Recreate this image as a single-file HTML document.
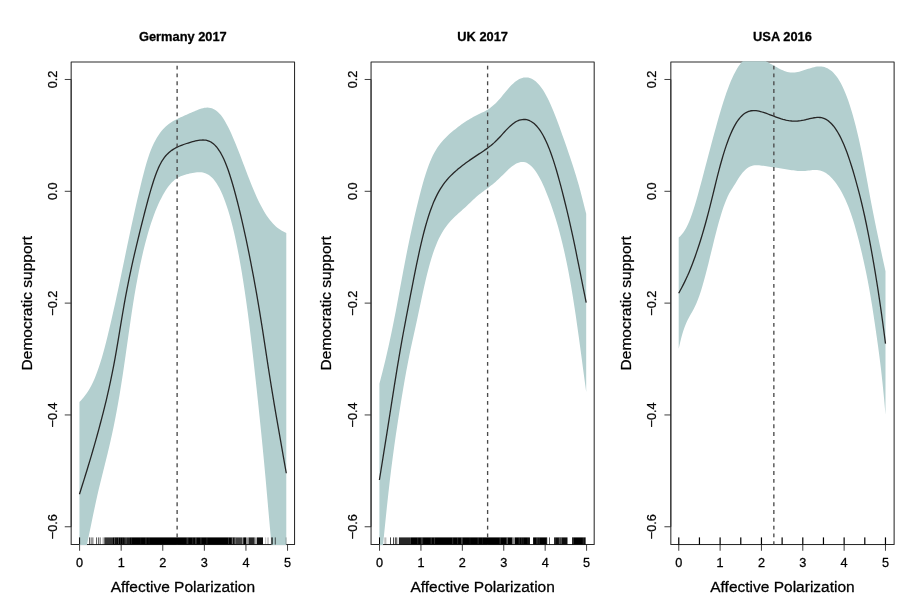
<!DOCTYPE html>
<html><head><meta charset="utf-8"><title>Affective Polarization and Democratic support</title>
<style>html,body{margin:0;padding:0;background:#fff}svg{display:block;filter:blur(0.45px)}</style></head>
<body>
<svg width="920" height="609" viewBox="0 0 920 609" font-family="'Liberation Sans', Arial, Helvetica, sans-serif" stroke-linejoin="round">
<rect width="920" height="609" fill="#fff"/>
<g id="panel1">
<rect x="71.16" y="61.9" width="223.39" height="482.65" fill="none" stroke="#2a2a2a" stroke-width="1.05"/>
<path d="M79.59,544.55v6.2 M121.18,544.55v6.2 M162.77,544.55v6.2 M204.36,544.55v6.2 M245.95,544.55v6.2 M287.54,544.55v6.2 M71.16,79.48h-6.4 M71.16,191.30h-6.4 M71.16,303.12h-6.4 M71.16,414.94h-6.4 M71.16,526.76h-6.4 M71.16,79.48V526.76 M79.59,544.55H287.54" stroke="#2a2a2a" stroke-width="0.9" fill="none"/>
<clipPath id="c0"><rect x="71.16" y="61.35" width="223.39" height="483.75"/></clipPath>
<g clip-path="url(#c0)">
<path d="M79.45,402.03 L80.94,400.38 L82.43,398.70 L83.91,396.92 L85.40,395.02 L86.89,392.95 L88.38,390.69 L89.87,388.19 L91.36,385.46 L92.84,382.44 L94.33,379.13 L95.82,375.51 L97.31,371.59 L98.80,367.35 L100.28,362.80 L101.77,357.92 L103.26,352.74 L104.75,347.28 L106.24,341.54 L107.72,335.55 L109.21,329.35 L110.70,322.97 L112.19,316.47 L113.68,309.87 L115.17,303.17 L116.65,296.37 L118.14,289.46 L119.63,282.44 L121.12,275.32 L122.61,268.12 L124.09,260.90 L125.58,253.69 L127.07,246.52 L128.56,239.40 L130.05,232.38 L131.53,225.45 L133.02,218.65 L134.51,211.96 L136.00,205.37 L137.49,198.87 L138.98,192.46 L140.46,186.18 L141.95,180.07 L143.44,174.20 L144.93,168.62 L146.42,163.37 L147.90,158.51 L149.39,154.10 L150.88,150.12 L152.37,146.54 L153.86,143.33 L155.34,140.43 L156.83,137.82 L158.32,135.44 L159.81,133.28 L161.30,131.32 L162.79,129.55 L164.27,127.95 L165.76,126.50 L167.25,125.20 L168.74,124.02 L170.23,122.95 L171.71,121.98 L173.20,121.08 L174.69,120.25 L176.18,119.48 L177.67,118.74 L179.15,118.02 L180.64,117.33 L182.13,116.65 L183.62,115.99 L185.11,115.33 L186.60,114.68 L188.08,114.02 L189.57,113.36 L191.06,112.70 L192.55,112.04 L194.04,111.39 L195.52,110.77 L197.01,110.16 L198.50,109.58 L199.99,109.04 L201.48,108.56 L202.96,108.16 L204.45,107.85 L205.94,107.65 L207.43,107.58 L208.92,107.65 L210.41,107.89 L211.89,108.30 L213.38,108.90 L214.87,109.69 L216.36,110.70 L217.85,111.94 L219.33,113.40 L220.82,115.11 L222.31,117.06 L223.80,119.27 L225.29,121.73 L226.77,124.41 L228.26,127.30 L229.75,130.37 L231.24,133.60 L232.73,136.97 L234.22,140.46 L235.70,144.05 L237.19,147.74 L238.68,151.51 L240.17,155.34 L241.66,159.22 L243.14,163.13 L244.63,167.07 L246.12,171.00 L247.61,174.90 L249.10,178.76 L250.58,182.56 L252.07,186.26 L253.56,189.86 L255.05,193.34 L256.54,196.69 L258.03,199.89 L259.51,202.95 L261.00,205.86 L262.49,208.61 L263.98,211.20 L265.47,213.65 L266.95,215.93 L268.44,218.06 L269.93,220.03 L271.42,221.85 L272.91,223.52 L274.39,225.04 L275.88,226.42 L277.37,227.66 L278.86,228.79 L280.35,229.79 L281.84,230.69 L283.32,231.51 L284.81,232.28 L286.30,233.02 L286.30,690.03 L284.81,676.35 L283.32,662.61 L281.84,648.76 L280.35,634.75 L278.86,620.53 L277.37,606.05 L275.88,591.24 L274.39,576.06 L272.91,560.45 L271.42,544.36 L269.93,527.78 L268.44,510.89 L266.95,493.99 L265.47,477.36 L263.98,461.24 L262.49,445.68 L261.00,430.67 L259.51,416.15 L258.03,402.00 L256.54,388.12 L255.05,374.49 L253.56,361.09 L252.07,347.92 L250.58,335.18 L249.10,323.05 L247.61,311.56 L246.12,300.70 L244.63,290.45 L243.14,280.76 L241.66,271.62 L240.17,263.00 L238.68,254.87 L237.19,247.23 L235.70,240.07 L234.22,233.37 L232.73,227.10 L231.24,221.27 L229.75,215.85 L228.26,210.82 L226.77,206.17 L225.29,201.88 L223.80,197.95 L222.31,194.35 L220.82,191.07 L219.33,188.09 L217.85,185.41 L216.36,183.02 L214.87,180.91 L213.38,179.07 L211.89,177.48 L210.41,176.15 L208.92,175.04 L207.43,174.14 L205.94,173.45 L204.45,172.93 L202.96,172.58 L201.48,172.36 L199.99,172.27 L198.50,172.28 L197.01,172.36 L195.52,172.52 L194.04,172.73 L192.55,172.99 L191.06,173.29 L189.57,173.61 L188.08,173.96 L186.60,174.33 L185.11,174.72 L183.62,175.16 L182.13,175.66 L180.64,176.25 L179.15,176.95 L177.67,177.77 L176.18,178.73 L174.69,179.85 L173.20,181.13 L171.71,182.59 L170.23,184.24 L168.74,186.07 L167.25,188.10 L165.76,190.32 L164.27,192.73 L162.79,195.33 L161.30,198.13 L159.81,201.12 L158.32,204.30 L156.83,207.71 L155.34,211.34 L153.86,215.23 L152.37,219.38 L150.88,223.81 L149.39,228.53 L147.90,233.55 L146.42,238.89 L144.93,244.56 L143.44,250.56 L141.95,256.93 L140.46,263.67 L138.98,270.82 L137.49,278.40 L136.00,286.46 L134.51,295.05 L133.02,304.21 L131.53,313.96 L130.05,324.15 L128.56,334.59 L127.07,345.10 L125.58,355.53 L124.09,365.77 L122.61,375.73 L121.12,385.32 L119.63,394.47 L118.14,403.12 L116.65,411.29 L115.17,419.04 L113.68,426.41 L112.19,433.45 L110.70,440.20 L109.21,446.70 L107.72,452.98 L106.24,459.08 L104.75,465.05 L103.26,470.96 L101.77,476.89 L100.28,482.92 L98.80,489.12 L97.31,495.56 L95.82,502.29 L94.33,509.24 L92.84,516.35 L91.36,523.53 L89.87,530.72 L88.38,537.87 L86.89,544.97 L85.40,552.03 L83.91,559.06 L82.43,566.05 L80.94,573.03 L79.45,580.01Z" fill="#B3CFCF"/>
<path d="M79.45,494.26 L80.94,489.54 L82.43,484.82 L83.91,480.07 L85.40,475.28 L86.89,470.45 L88.38,465.56 L89.87,460.61 L91.36,455.60 L92.84,450.51 L94.33,445.35 L95.82,440.09 L97.31,434.75 L98.80,429.32 L100.28,423.78 L101.77,418.14 L103.26,412.37 L104.75,406.44 L106.24,400.31 L107.72,393.97 L109.21,387.37 L110.70,380.47 L112.19,373.23 L113.68,365.60 L115.17,357.55 L116.65,349.11 L118.14,340.36 L119.63,331.40 L121.12,322.39 L122.61,313.51 L124.09,304.94 L125.58,296.73 L127.07,288.86 L128.56,281.32 L130.05,274.09 L131.53,267.13 L133.02,260.42 L134.51,253.91 L136.00,247.56 L137.49,241.34 L138.98,235.23 L140.46,229.21 L141.95,223.24 L143.44,217.34 L144.93,211.51 L146.42,205.80 L147.90,200.22 L149.39,194.82 L150.88,189.63 L152.37,184.69 L153.86,180.03 L155.34,175.69 L156.83,171.72 L158.32,168.14 L159.81,164.98 L161.30,162.20 L162.79,159.77 L164.27,157.64 L165.76,155.78 L167.25,154.16 L168.74,152.73 L170.23,151.46 L171.71,150.34 L173.20,149.35 L174.69,148.46 L176.18,147.67 L177.67,146.94 L179.15,146.26 L180.64,145.63 L182.13,145.05 L183.62,144.50 L185.11,143.99 L186.60,143.50 L188.08,143.03 L189.57,142.57 L191.06,142.13 L192.55,141.72 L194.04,141.33 L195.52,140.98 L197.01,140.67 L198.50,140.40 L199.99,140.18 L201.48,140.03 L202.96,139.98 L204.45,140.04 L205.94,140.22 L207.43,140.56 L208.92,141.07 L210.41,141.76 L211.89,142.65 L213.38,143.77 L214.87,145.12 L216.36,146.72 L217.85,148.60 L219.33,150.76 L220.82,153.21 L222.31,155.97 L223.80,159.05 L225.29,162.47 L226.77,166.22 L228.26,170.31 L229.75,174.72 L231.24,179.43 L232.73,184.44 L234.22,189.72 L235.70,195.24 L237.19,200.98 L238.68,206.90 L240.17,213.01 L241.66,219.32 L243.14,225.84 L244.63,232.55 L246.12,239.47 L247.61,246.58 L249.10,253.88 L250.58,261.37 L252.07,269.05 L253.56,276.95 L255.05,285.07 L256.54,293.42 L258.03,302.03 L259.51,310.90 L261.00,320.04 L262.49,329.46 L263.98,339.10 L265.47,348.86 L266.95,358.63 L268.44,368.28 L269.93,377.76 L271.42,387.05 L272.91,396.15 L274.39,405.07 L275.88,413.81 L277.37,422.42 L278.86,430.94 L280.35,439.40 L281.84,447.86 L283.32,456.33 L284.81,464.79 L286.30,473.25" fill="none" stroke="#262626" stroke-width="1.3"/>
<line x1="177.12" y1="65.64" x2="177.12" y2="544.55" stroke="#4a4a4a" stroke-width="1.35" stroke-dasharray="3.9,3.897"/>
<rect x="79.10" y="537.4" width="1.0" height="7.15" fill="#000" fill-opacity="1"/>
<rect x="89.25" y="537.4" width="0.7" height="7.15" fill="#000" fill-opacity="0.9"/>
<rect x="90.75" y="537.4" width="0.7" height="7.15" fill="#000" fill-opacity="0.9"/>
<rect x="92.55" y="537.4" width="0.7" height="7.15" fill="#000" fill-opacity="0.9"/>
<rect x="96.15" y="537.4" width="0.7" height="7.15" fill="#000" fill-opacity="0.9"/>
<rect x="97.95" y="537.4" width="0.7" height="7.15" fill="#000" fill-opacity="0.9"/>
<rect x="99.75" y="537.4" width="0.7" height="7.15" fill="#000" fill-opacity="0.9"/>
<rect x="102.75" y="537.4" width="0.7" height="7.15" fill="#000" fill-opacity="0.6"/>
<rect x="104.30" y="537.4" width="8.70" height="7.15" fill="#000" fill-opacity="0.8"/>
<rect x="113.00" y="537.4" width="11.00" height="7.15" fill="#000" fill-opacity="1"/>
<rect x="124.00" y="537.4" width="6.00" height="7.15" fill="#000" fill-opacity="0.88"/>
<rect x="130.00" y="537.4" width="105.50" height="7.15" fill="#000" fill-opacity="1"/>
<rect x="235.50" y="537.4" width="7.10" height="7.15" fill="#000" fill-opacity="0.75"/>
<rect x="243.20" y="537.4" width="3.00" height="7.15" fill="#000" fill-opacity="1"/>
<rect x="246.20" y="537.4" width="2.40" height="7.15" fill="#000" fill-opacity="0.4"/>
<rect x="248.60" y="537.4" width="6.00" height="7.15" fill="#000" fill-opacity="0.85"/>
<rect x="254.60" y="537.4" width="2.40" height="7.15" fill="#000" fill-opacity="0.35"/>
<rect x="257.00" y="537.4" width="6.00" height="7.15" fill="#000" fill-opacity="0.95"/>
<rect x="265.05" y="537.4" width="0.7" height="7.15" fill="#000" fill-opacity="0.3"/>
<rect x="266.85" y="537.4" width="0.7" height="7.15" fill="#000" fill-opacity="0.3"/>
<rect x="267.95" y="537.4" width="0.7" height="7.15" fill="#000" fill-opacity="0.3"/>
<rect x="270.95" y="537.4" width="0.7" height="7.15" fill="#000" fill-opacity="0.9"/>
<rect x="272.15" y="537.4" width="0.7" height="7.15" fill="#000" fill-opacity="0.9"/>
<rect x="274.85" y="537.4" width="0.7" height="7.15" fill="#000" fill-opacity="0.9"/>
<rect x="285.70" y="537.4" width="0.8" height="7.15" fill="#000" fill-opacity="0.35"/>
<rect x="120.12" y="537.4" width="0.51" height="6.55" fill="#fff" fill-opacity="0.26"/>
<rect x="114.59" y="537.4" width="0.78" height="6.55" fill="#fff" fill-opacity="0.19"/>
<rect x="114.28" y="537.4" width="0.76" height="6.55" fill="#fff" fill-opacity="0.11"/>
<rect x="122.54" y="537.4" width="0.45" height="6.55" fill="#fff" fill-opacity="0.12"/>
<rect x="122.34" y="537.4" width="0.98" height="6.55" fill="#fff" fill-opacity="0.13"/>
<rect x="117.91" y="537.4" width="0.84" height="6.55" fill="#fff" fill-opacity="0.34"/>
<rect x="125.70" y="537.4" width="0.68" height="6.55" fill="#fff" fill-opacity="0.34"/>
<rect x="114.02" y="537.4" width="1.00" height="6.55" fill="#fff" fill-opacity="0.17"/>
<rect x="116.17" y="537.4" width="0.48" height="6.55" fill="#fff" fill-opacity="0.18"/>
<rect x="130.95" y="537.4" width="0.53" height="6.55" fill="#fff" fill-opacity="0.25"/>
<rect x="192.50" y="537.4" width="0.66" height="6.55" fill="#fff" fill-opacity="0.24"/>
<rect x="140.65" y="537.4" width="0.44" height="6.55" fill="#fff" fill-opacity="0.15"/>
<rect x="196.24" y="537.4" width="0.70" height="6.55" fill="#fff" fill-opacity="0.18"/>
<rect x="187.70" y="537.4" width="0.72" height="6.55" fill="#fff" fill-opacity="0.17"/>
<rect x="206.49" y="537.4" width="0.89" height="6.55" fill="#fff" fill-opacity="0.16"/>
<rect x="186.70" y="537.4" width="0.77" height="6.55" fill="#fff" fill-opacity="0.32"/>
<rect x="200.65" y="537.4" width="0.60" height="6.55" fill="#fff" fill-opacity="0.35"/>
<rect x="145.63" y="537.4" width="0.69" height="6.55" fill="#fff" fill-opacity="0.29"/>
<rect x="148.68" y="537.4" width="0.74" height="6.55" fill="#fff" fill-opacity="0.11"/>
<rect x="195.14" y="537.4" width="0.94" height="6.55" fill="#fff" fill-opacity="0.24"/>
<rect x="234.63" y="537.4" width="0.62" height="6.55" fill="#fff" fill-opacity="0.27"/>
<rect x="231.54" y="537.4" width="0.81" height="6.55" fill="#fff" fill-opacity="0.21"/>
<rect x="234.24" y="537.4" width="1.06" height="6.55" fill="#fff" fill-opacity="0.22"/>
<rect x="232.31" y="537.4" width="0.44" height="6.55" fill="#fff" fill-opacity="0.28"/>
<rect x="232.12" y="537.4" width="1.10" height="6.55" fill="#fff" fill-opacity="0.31"/>
<rect x="228.13" y="537.4" width="0.67" height="6.55" fill="#fff" fill-opacity="0.27"/>
</g>
<text x="79.59" y="567.2" font-size="12.7" text-anchor="middle" fill="#000" stroke="#000" stroke-width="0.28">0</text>
<text x="121.18" y="567.2" font-size="12.7" text-anchor="middle" fill="#000" stroke="#000" stroke-width="0.28">1</text>
<text x="162.77" y="567.2" font-size="12.7" text-anchor="middle" fill="#000" stroke="#000" stroke-width="0.28">2</text>
<text x="204.36" y="567.2" font-size="12.7" text-anchor="middle" fill="#000" stroke="#000" stroke-width="0.28">3</text>
<text x="245.95" y="567.2" font-size="12.7" text-anchor="middle" fill="#000" stroke="#000" stroke-width="0.28">4</text>
<text x="287.54" y="567.2" font-size="12.7" text-anchor="middle" fill="#000" stroke="#000" stroke-width="0.28">5</text>
<text transform="translate(56.66,79.48) rotate(-90)" font-size="12.7" text-anchor="middle" fill="#000" stroke="#000" stroke-width="0.28">0.2</text>
<text transform="translate(56.66,191.30) rotate(-90)" font-size="12.7" text-anchor="middle" fill="#000" stroke="#000" stroke-width="0.28">0.0</text>
<text transform="translate(56.66,303.12) rotate(-90)" font-size="12.7" text-anchor="middle" fill="#000" stroke="#000" stroke-width="0.28">−0.2</text>
<text transform="translate(56.66,414.94) rotate(-90)" font-size="12.7" text-anchor="middle" fill="#000" stroke="#000" stroke-width="0.28">−0.4</text>
<text transform="translate(56.66,526.76) rotate(-90)" font-size="12.7" text-anchor="middle" fill="#000" stroke="#000" stroke-width="0.28">−0.6</text>
<text x="182.86" y="40.5" font-size="12.85" font-weight="bold" text-anchor="middle" fill="#000" stroke="#000" stroke-width="0.28">Germany 2017</text>
<text x="182.86" y="591.6" font-size="15.5" text-anchor="middle" fill="#000" stroke="#000" stroke-width="0.28">Affective Polarization</text>
<text transform="translate(31.56,303.22) rotate(-90)" font-size="15.5" text-anchor="middle" fill="#000" stroke="#000" stroke-width="0.28">Democratic support</text>
</g>
<g id="panel2">
<rect x="371.06" y="61.9" width="223.13" height="482.65" fill="none" stroke="#2a2a2a" stroke-width="1.05"/>
<path d="M379.53,544.55v6.2 M420.94,544.55v6.2 M462.35,544.55v6.2 M503.76,544.55v6.2 M545.17,544.55v6.2 M586.58,544.55v6.2 M371.06,79.48h-6.4 M371.06,191.30h-6.4 M371.06,303.12h-6.4 M371.06,414.94h-6.4 M371.06,526.76h-6.4 M371.06,79.48V526.76 M379.53,544.55H586.58" stroke="#2a2a2a" stroke-width="0.9" fill="none"/>
<clipPath id="c1"><rect x="371.06" y="61.35" width="223.13" height="483.75"/></clipPath>
<g clip-path="url(#c1)">
<path d="M379.40,383.79 L380.89,378.03 L382.38,372.22 L383.86,366.28 L385.35,360.17 L386.84,353.86 L388.33,347.32 L389.81,340.56 L391.30,333.56 L392.79,326.31 L394.28,318.84 L395.77,311.13 L397.25,303.26 L398.74,295.27 L400.23,287.24 L401.72,279.21 L403.20,271.25 L404.69,263.41 L406.18,255.74 L407.67,248.26 L409.16,240.99 L410.64,233.95 L412.13,227.13 L413.62,220.51 L415.11,214.09 L416.59,207.85 L418.08,201.77 L419.57,195.81 L421.06,190.01 L422.55,184.47 L424.03,179.27 L425.52,174.41 L427.01,169.90 L428.50,165.73 L429.98,161.91 L431.47,158.45 L432.96,155.32 L434.45,152.49 L435.94,149.92 L437.42,147.59 L438.91,145.47 L440.40,143.51 L441.89,141.69 L443.37,139.98 L444.86,138.39 L446.35,136.89 L447.84,135.47 L449.33,134.12 L450.81,132.82 L452.30,131.57 L453.79,130.35 L455.28,129.15 L456.76,127.97 L458.25,126.83 L459.74,125.71 L461.23,124.62 L462.72,123.57 L464.20,122.54 L465.69,121.55 L467.18,120.59 L468.67,119.67 L470.15,118.79 L471.64,117.93 L473.13,117.11 L474.62,116.31 L476.11,115.54 L477.59,114.79 L479.08,114.05 L480.57,113.33 L482.06,112.62 L483.54,111.89 L485.03,111.13 L486.52,110.32 L488.01,109.42 L489.49,108.42 L490.98,107.32 L492.47,106.12 L493.96,104.82 L495.45,103.42 L496.93,101.92 L498.42,100.33 L499.91,98.64 L501.40,96.88 L502.88,95.09 L504.37,93.27 L505.86,91.47 L507.35,89.70 L508.84,87.99 L510.32,86.36 L511.81,84.82 L513.30,83.40 L514.79,82.09 L516.27,80.93 L517.76,79.92 L519.25,79.08 L520.74,78.41 L522.23,77.91 L523.71,77.58 L525.20,77.42 L526.69,77.43 L528.18,77.62 L529.66,77.98 L531.15,78.53 L532.64,79.26 L534.13,80.18 L535.62,81.30 L537.10,82.63 L538.59,84.16 L540.08,85.92 L541.57,87.89 L543.05,90.09 L544.54,92.51 L546.03,95.14 L547.52,97.98 L549.01,101.03 L550.49,104.26 L551.98,107.68 L553.47,111.25 L554.96,114.98 L556.44,118.84 L557.93,122.81 L559.42,126.86 L560.91,130.99 L562.40,135.17 L563.88,139.37 L565.37,143.60 L566.86,147.86 L568.35,152.17 L569.83,156.54 L571.32,160.98 L572.81,165.51 L574.30,170.15 L575.79,174.94 L577.27,179.91 L578.76,185.10 L580.25,190.53 L581.74,196.21 L583.22,202.05 L584.71,207.92 L586.20,213.76 L586.20,392.00 L584.71,380.96 L583.22,369.91 L581.74,358.84 L580.25,347.80 L578.76,336.87 L577.27,326.20 L575.79,315.86 L574.30,305.94 L572.81,296.49 L571.32,287.54 L569.83,279.08 L568.35,271.09 L566.86,263.56 L565.37,256.45 L563.88,249.74 L562.40,243.39 L560.91,237.38 L559.42,231.70 L557.93,226.33 L556.44,221.26 L554.96,216.47 L553.47,211.90 L551.98,207.54 L550.49,203.35 L549.01,199.30 L547.52,195.40 L546.03,191.66 L544.54,188.11 L543.05,184.76 L541.57,181.62 L540.08,178.69 L538.59,175.98 L537.10,173.49 L535.62,171.23 L534.13,169.21 L532.64,167.44 L531.15,165.91 L529.66,164.65 L528.18,163.64 L526.69,162.87 L525.20,162.35 L523.71,162.04 L522.23,161.96 L520.74,162.07 L519.25,162.39 L517.76,162.89 L516.27,163.57 L514.79,164.41 L513.30,165.41 L511.81,166.55 L510.32,167.79 L508.84,169.11 L507.35,170.50 L505.86,171.94 L504.37,173.40 L502.88,174.88 L501.40,176.36 L499.91,177.81 L498.42,179.23 L496.93,180.60 L495.45,181.92 L493.96,183.19 L492.47,184.42 L490.98,185.61 L489.49,186.76 L488.01,187.89 L486.52,188.99 L485.03,190.08 L483.54,191.17 L482.06,192.27 L480.57,193.41 L479.08,194.58 L477.59,195.81 L476.11,197.10 L474.62,198.45 L473.13,199.83 L471.64,201.23 L470.15,202.66 L468.67,204.08 L467.18,205.50 L465.69,206.90 L464.20,208.26 L462.72,209.60 L461.23,210.93 L459.74,212.26 L458.25,213.59 L456.76,214.95 L455.28,216.34 L453.79,217.78 L452.30,219.27 L450.81,220.84 L449.33,222.50 L447.84,224.28 L446.35,226.19 L444.86,228.27 L443.37,230.53 L441.89,232.98 L440.40,235.67 L438.91,238.62 L437.42,241.86 L435.94,245.41 L434.45,249.31 L432.96,253.57 L431.47,258.20 L429.98,263.23 L428.50,268.66 L427.01,274.49 L425.52,280.68 L424.03,287.20 L422.55,294.00 L421.06,300.99 L419.57,308.06 L418.08,315.12 L416.59,322.08 L415.11,328.87 L413.62,335.50 L412.13,342.18 L410.64,349.11 L409.16,356.36 L407.67,363.94 L406.18,371.86 L404.69,380.10 L403.20,388.67 L401.72,397.53 L400.23,406.66 L398.74,416.02 L397.25,425.65 L395.77,435.61 L394.28,446.01 L392.79,456.95 L391.30,468.49 L389.81,480.73 L388.33,493.74 L386.84,507.58 L385.35,522.08 L383.86,536.83 L382.38,551.42 L380.89,565.80 L379.40,580.07Z" fill="#B3CFCF"/>
<path d="M379.40,480.00 L380.89,470.75 L382.38,461.49 L383.86,452.22 L385.35,442.93 L386.84,433.60 L388.33,424.21 L389.81,414.73 L391.30,405.19 L392.79,395.64 L394.28,386.17 L395.77,376.84 L397.25,367.71 L398.74,358.79 L400.23,350.11 L401.72,341.68 L403.20,333.50 L404.69,325.53 L406.18,317.69 L407.67,309.93 L409.16,302.18 L410.64,294.44 L412.13,286.76 L413.62,279.16 L415.11,271.68 L416.59,264.37 L418.08,257.26 L419.57,250.41 L421.06,243.85 L422.55,237.61 L424.03,231.73 L425.52,226.22 L427.01,221.06 L428.50,216.26 L429.98,211.80 L431.47,207.68 L432.96,203.87 L434.45,200.36 L435.94,197.12 L437.42,194.14 L438.91,191.40 L440.40,188.87 L441.89,186.54 L443.37,184.39 L444.86,182.39 L446.35,180.54 L447.84,178.80 L449.33,177.18 L450.81,175.64 L452.30,174.19 L453.79,172.79 L455.28,171.44 L456.76,170.13 L458.25,168.87 L459.74,167.65 L461.23,166.46 L462.72,165.31 L464.20,164.18 L465.69,163.08 L467.18,162.00 L468.67,160.94 L470.15,159.90 L471.64,158.87 L473.13,157.85 L474.62,156.85 L476.11,155.86 L477.59,154.87 L479.08,153.90 L480.57,152.92 L482.06,151.93 L483.54,150.93 L485.03,149.90 L486.52,148.85 L488.01,147.75 L489.49,146.61 L490.98,145.42 L492.47,144.17 L493.96,142.87 L495.45,141.49 L496.93,140.06 L498.42,138.54 L499.91,136.96 L501.40,135.34 L502.88,133.69 L504.37,132.04 L505.86,130.42 L507.35,128.85 L508.84,127.35 L510.32,125.95 L511.81,124.65 L513.30,123.47 L514.79,122.43 L516.27,121.53 L517.76,120.79 L519.25,120.21 L520.74,119.79 L522.23,119.53 L523.71,119.43 L525.20,119.49 L526.69,119.72 L528.18,120.13 L529.66,120.72 L531.15,121.48 L532.64,122.44 L534.13,123.59 L535.62,124.95 L537.10,126.54 L538.59,128.36 L540.08,130.42 L541.57,132.73 L543.05,135.29 L544.54,138.10 L546.03,141.18 L547.52,144.53 L549.01,148.14 L550.49,152.03 L551.98,156.19 L553.47,160.62 L554.96,165.33 L556.44,170.28 L557.93,175.45 L559.42,180.83 L560.91,186.39 L562.40,192.11 L563.88,197.97 L565.37,203.97 L566.86,210.12 L568.35,216.42 L569.83,222.90 L571.32,229.57 L572.81,236.42 L574.30,243.45 L575.79,250.66 L577.27,258.01 L578.76,265.45 L580.25,272.96 L581.74,280.46 L583.22,287.90 L584.71,295.24 L586.20,302.53" fill="none" stroke="#262626" stroke-width="1.3"/>
<line x1="487.61" y1="65.64" x2="487.61" y2="544.55" stroke="#4a4a4a" stroke-width="1.35" stroke-dasharray="3.9,3.897"/>
<rect x="379.00" y="537.4" width="1.0" height="7.15" fill="#000" fill-opacity="1"/>
<rect x="384.30" y="537.4" width="2.10" height="7.15" fill="#000" fill-opacity="0.25"/>
<rect x="390.20" y="537.4" width="0.8" height="7.15" fill="#000" fill-opacity="0.9"/>
<rect x="393.10" y="537.4" width="0.8" height="7.15" fill="#000" fill-opacity="0.9"/>
<rect x="394.90" y="537.4" width="0.8" height="7.15" fill="#000" fill-opacity="0.9"/>
<rect x="396.40" y="537.4" width="0.8" height="7.15" fill="#000" fill-opacity="0.9"/>
<rect x="398.90" y="537.4" width="12.00" height="7.15" fill="#000" fill-opacity="0.85"/>
<rect x="410.90" y="537.4" width="101.60" height="7.15" fill="#000" fill-opacity="1"/>
<rect x="512.50" y="537.4" width="2.40" height="7.15" fill="#000" fill-opacity="0.45"/>
<rect x="514.90" y="537.4" width="15.00" height="7.15" fill="#000" fill-opacity="1"/>
<rect x="533.10" y="537.4" width="14.10" height="7.15" fill="#000" fill-opacity="1"/>
<rect x="549.25" y="537.4" width="0.7" height="7.15" fill="#000" fill-opacity="0.9"/>
<rect x="554.10" y="537.4" width="13.40" height="7.15" fill="#000" fill-opacity="0.95"/>
<rect x="572.00" y="537.4" width="13.70" height="7.15" fill="#000" fill-opacity="1"/>
<rect x="433.90" y="537.4" width="1.07" height="6.55" fill="#fff" fill-opacity="0.13"/>
<rect x="482.19" y="537.4" width="0.46" height="6.55" fill="#fff" fill-opacity="0.16"/>
<rect x="511.91" y="537.4" width="0.55" height="6.55" fill="#fff" fill-opacity="0.26"/>
<rect x="457.37" y="537.4" width="0.72" height="6.55" fill="#fff" fill-opacity="0.22"/>
<rect x="430.42" y="537.4" width="0.98" height="6.55" fill="#fff" fill-opacity="0.12"/>
<rect x="434.65" y="537.4" width="0.41" height="6.55" fill="#fff" fill-opacity="0.17"/>
<rect x="452.17" y="537.4" width="1.03" height="6.55" fill="#fff" fill-opacity="0.19"/>
<rect x="422.49" y="537.4" width="0.58" height="6.55" fill="#fff" fill-opacity="0.35"/>
<rect x="417.37" y="537.4" width="0.83" height="6.55" fill="#fff" fill-opacity="0.19"/>
<rect x="477.75" y="537.4" width="0.64" height="6.55" fill="#fff" fill-opacity="0.27"/>
<rect x="461.26" y="537.4" width="0.85" height="6.55" fill="#fff" fill-opacity="0.33"/>
<rect x="469.74" y="537.4" width="0.50" height="6.55" fill="#fff" fill-opacity="0.12"/>
<rect x="506.55" y="537.4" width="0.74" height="6.55" fill="#fff" fill-opacity="0.15"/>
<rect x="506.55" y="537.4" width="0.81" height="6.55" fill="#fff" fill-opacity="0.28"/>
<rect x="499.98" y="537.4" width="0.60" height="6.55" fill="#fff" fill-opacity="0.19"/>
<rect x="499.69" y="537.4" width="0.49" height="6.55" fill="#fff" fill-opacity="0.29"/>
<rect x="420.86" y="537.4" width="0.88" height="6.55" fill="#fff" fill-opacity="0.28"/>
<rect x="506.95" y="537.4" width="0.99" height="6.55" fill="#fff" fill-opacity="0.23"/>
<rect x="430.96" y="537.4" width="0.51" height="6.55" fill="#fff" fill-opacity="0.23"/>
<rect x="462.49" y="537.4" width="0.45" height="6.55" fill="#fff" fill-opacity="0.33"/>
<rect x="522.61" y="537.4" width="0.89" height="6.55" fill="#fff" fill-opacity="0.15"/>
<rect x="518.66" y="537.4" width="0.41" height="6.55" fill="#fff" fill-opacity="0.19"/>
<rect x="519.00" y="537.4" width="0.70" height="6.55" fill="#fff" fill-opacity="0.19"/>
<rect x="527.51" y="537.4" width="1.02" height="6.55" fill="#fff" fill-opacity="0.14"/>
<rect x="520.94" y="537.4" width="0.52" height="6.55" fill="#fff" fill-opacity="0.27"/>
<rect x="546.65" y="537.4" width="0.54" height="6.55" fill="#fff" fill-opacity="0.29"/>
<rect x="537.20" y="537.4" width="0.41" height="6.55" fill="#fff" fill-opacity="0.29"/>
<rect x="537.79" y="537.4" width="0.52" height="6.55" fill="#fff" fill-opacity="0.21"/>
<rect x="536.24" y="537.4" width="0.69" height="6.55" fill="#fff" fill-opacity="0.21"/>
<rect x="538.85" y="537.4" width="0.81" height="6.55" fill="#fff" fill-opacity="0.17"/>
<rect x="555.24" y="537.4" width="0.46" height="6.55" fill="#fff" fill-opacity="0.13"/>
<rect x="560.77" y="537.4" width="0.65" height="6.55" fill="#fff" fill-opacity="0.30"/>
<rect x="560.56" y="537.4" width="0.90" height="6.55" fill="#fff" fill-opacity="0.35"/>
<rect x="554.82" y="537.4" width="0.41" height="6.55" fill="#fff" fill-opacity="0.14"/>
<rect x="559.02" y="537.4" width="0.80" height="6.55" fill="#fff" fill-opacity="0.29"/>
<rect x="558.57" y="537.4" width="1.08" height="6.55" fill="#fff" fill-opacity="0.10"/>
<rect x="582.86" y="537.4" width="0.55" height="6.55" fill="#fff" fill-opacity="0.32"/>
<rect x="572.43" y="537.4" width="1.08" height="6.55" fill="#fff" fill-opacity="0.29"/>
<rect x="584.88" y="537.4" width="0.81" height="6.55" fill="#fff" fill-opacity="0.14"/>
<rect x="584.61" y="537.4" width="0.71" height="6.55" fill="#fff" fill-opacity="0.12"/>
</g>
<text x="379.53" y="567.2" font-size="12.7" text-anchor="middle" fill="#000" stroke="#000" stroke-width="0.28">0</text>
<text x="420.94" y="567.2" font-size="12.7" text-anchor="middle" fill="#000" stroke="#000" stroke-width="0.28">1</text>
<text x="462.35" y="567.2" font-size="12.7" text-anchor="middle" fill="#000" stroke="#000" stroke-width="0.28">2</text>
<text x="503.76" y="567.2" font-size="12.7" text-anchor="middle" fill="#000" stroke="#000" stroke-width="0.28">3</text>
<text x="545.17" y="567.2" font-size="12.7" text-anchor="middle" fill="#000" stroke="#000" stroke-width="0.28">4</text>
<text x="586.58" y="567.2" font-size="12.7" text-anchor="middle" fill="#000" stroke="#000" stroke-width="0.28">5</text>
<text transform="translate(356.56,79.48) rotate(-90)" font-size="12.7" text-anchor="middle" fill="#000" stroke="#000" stroke-width="0.28">0.2</text>
<text transform="translate(356.56,191.30) rotate(-90)" font-size="12.7" text-anchor="middle" fill="#000" stroke="#000" stroke-width="0.28">0.0</text>
<text transform="translate(356.56,303.12) rotate(-90)" font-size="12.7" text-anchor="middle" fill="#000" stroke="#000" stroke-width="0.28">−0.2</text>
<text transform="translate(356.56,414.94) rotate(-90)" font-size="12.7" text-anchor="middle" fill="#000" stroke="#000" stroke-width="0.28">−0.4</text>
<text transform="translate(356.56,526.76) rotate(-90)" font-size="12.7" text-anchor="middle" fill="#000" stroke="#000" stroke-width="0.28">−0.6</text>
<text x="482.62" y="40.5" font-size="12.85" font-weight="bold" text-anchor="middle" fill="#000" stroke="#000" stroke-width="0.28">UK 2017</text>
<text x="482.62" y="591.6" font-size="15.5" text-anchor="middle" fill="#000" stroke="#000" stroke-width="0.28">Affective Polarization</text>
<text transform="translate(331.46,303.22) rotate(-90)" font-size="15.5" text-anchor="middle" fill="#000" stroke="#000" stroke-width="0.28">Democratic support</text>
</g>
<g id="panel3">
<rect x="670.83" y="61.9" width="223.29" height="482.65" fill="none" stroke="#2a2a2a" stroke-width="1.05"/>
<path d="M678.77,544.55v6.2 M720.11,544.55v6.2 M761.45,544.55v6.2 M802.79,544.55v6.2 M844.13,544.55v6.2 M885.47,544.55v6.2 M670.83,79.48h-6.4 M670.83,191.30h-6.4 M670.83,303.12h-6.4 M670.83,414.94h-6.4 M670.83,526.76h-6.4 M670.83,79.48V526.76 M678.77,544.55H885.47" stroke="#2a2a2a" stroke-width="0.9" fill="none"/>
<clipPath id="c2"><rect x="670.83" y="61.35" width="223.29" height="483.75"/></clipPath>
<g clip-path="url(#c2)">
<path d="M678.70,237.58 L680.19,236.16 L681.68,234.61 L683.16,232.80 L684.65,230.62 L686.14,228.05 L687.63,225.08 L689.11,221.70 L690.60,217.93 L692.09,213.80 L693.58,209.34 L695.07,204.57 L696.55,199.54 L698.04,194.29 L699.53,188.86 L701.02,183.31 L702.50,177.68 L703.99,172.02 L705.48,166.36 L706.97,160.71 L708.46,155.07 L709.94,149.45 L711.43,143.85 L712.92,138.30 L714.41,132.80 L715.89,127.38 L717.38,122.04 L718.87,116.81 L720.36,111.71 L721.85,106.75 L723.33,101.97 L724.82,97.38 L726.31,93.01 L727.80,88.88 L729.28,84.99 L730.77,81.33 L732.26,77.93 L733.75,74.78 L735.24,71.88 L736.72,69.23 L738.21,66.84 L739.70,64.70 L741.19,62.81 L742.67,61.18 L744.16,59.79 L745.65,58.65 L747.14,57.73 L748.63,57.04 L750.11,56.56 L751.60,56.28 L753.09,56.19 L754.58,56.29 L756.06,56.56 L757.55,56.98 L759.04,57.53 L760.53,58.18 L762.02,58.92 L763.50,59.72 L764.99,60.56 L766.48,61.43 L767.97,62.29 L769.45,63.14 L770.94,64.00 L772.43,64.84 L773.92,65.69 L775.41,66.54 L776.89,67.37 L778.38,68.18 L779.87,68.95 L781.36,69.67 L782.84,70.34 L784.33,70.93 L785.82,71.45 L787.31,71.88 L788.79,72.22 L790.28,72.46 L791.77,72.59 L793.26,72.61 L794.75,72.52 L796.23,72.32 L797.72,72.05 L799.21,71.69 L800.70,71.29 L802.18,70.83 L803.67,70.35 L805.16,69.86 L806.65,69.35 L808.14,68.86 L809.62,68.38 L811.11,67.92 L812.60,67.50 L814.09,67.13 L815.57,66.82 L817.06,66.58 L818.55,66.44 L820.04,66.41 L821.53,66.51 L823.01,66.74 L824.50,67.11 L825.99,67.63 L827.48,68.31 L828.96,69.15 L830.45,70.16 L831.94,71.36 L833.43,72.77 L834.92,74.39 L836.40,76.25 L837.89,78.35 L839.38,80.72 L840.87,83.35 L842.35,86.25 L843.84,89.45 L845.33,92.94 L846.82,96.74 L848.31,100.84 L849.79,105.24 L851.28,109.97 L852.77,115.01 L854.26,120.38 L855.74,126.09 L857.23,132.14 L858.72,138.54 L860.21,145.28 L861.70,152.36 L863.18,159.76 L864.67,167.47 L866.16,175.46 L867.65,183.61 L869.13,191.70 L870.62,199.63 L872.11,207.40 L873.60,215.00 L875.09,222.43 L876.57,229.71 L878.06,236.85 L879.55,243.87 L881.04,250.80 L882.52,257.66 L884.01,264.48 L885.50,271.26 L885.50,414.72 L884.01,398.07 L882.52,383.03 L881.04,369.57 L879.55,357.39 L878.06,346.19 L876.57,335.64 L875.09,325.46 L873.60,315.48 L872.11,305.85 L870.62,296.71 L869.13,288.21 L867.65,280.29 L866.16,272.83 L864.67,265.74 L863.18,258.97 L861.70,252.48 L860.21,246.27 L858.72,240.34 L857.23,234.66 L855.74,229.25 L854.26,224.12 L852.77,219.28 L851.28,214.73 L849.79,210.48 L848.31,206.52 L846.82,202.88 L845.33,199.53 L843.84,196.45 L842.35,193.57 L840.87,190.86 L839.38,188.32 L837.89,185.96 L836.40,183.77 L834.92,181.75 L833.43,179.90 L831.94,178.22 L830.45,176.71 L828.96,175.34 L827.48,174.13 L825.99,173.07 L824.50,172.18 L823.01,171.45 L821.53,170.89 L820.04,170.47 L818.55,170.18 L817.06,170.00 L815.57,169.92 L814.09,169.93 L812.60,170.02 L811.11,170.18 L809.62,170.38 L808.14,170.59 L806.65,170.78 L805.16,170.94 L803.67,171.05 L802.18,171.11 L800.70,171.10 L799.21,171.03 L797.72,170.90 L796.23,170.74 L794.75,170.56 L793.26,170.36 L791.77,170.15 L790.28,169.94 L788.79,169.71 L787.31,169.49 L785.82,169.25 L784.33,169.02 L782.84,168.78 L781.36,168.55 L779.87,168.31 L778.38,168.08 L776.89,167.85 L775.41,167.62 L773.92,167.40 L772.43,167.17 L770.94,166.95 L769.45,166.74 L767.97,166.52 L766.48,166.30 L764.99,166.08 L763.50,165.86 L762.02,165.65 L760.53,165.46 L759.04,165.31 L757.55,165.20 L756.06,165.18 L754.58,165.27 L753.09,165.52 L751.60,165.95 L750.11,166.57 L748.63,167.37 L747.14,168.36 L745.65,169.55 L744.16,170.94 L742.67,172.56 L741.19,174.41 L739.70,176.49 L738.21,178.79 L736.72,181.21 L735.24,183.67 L733.75,186.10 L732.26,188.41 L730.77,190.74 L729.28,193.37 L727.80,196.37 L726.31,199.75 L724.82,203.50 L723.33,207.62 L721.85,212.10 L720.36,216.91 L718.87,222.05 L717.38,227.49 L715.89,233.20 L714.41,239.12 L712.92,245.16 L711.43,251.26 L709.94,257.36 L708.46,263.39 L706.97,269.31 L705.48,275.06 L703.99,280.58 L702.50,285.82 L701.02,290.73 L699.53,295.26 L698.04,299.35 L696.55,302.98 L695.07,306.21 L693.58,309.16 L692.09,311.91 L690.60,314.56 L689.11,317.22 L687.63,320.05 L686.14,323.21 L684.65,326.88 L683.16,331.21 L681.68,336.30 L680.19,342.17 L678.70,348.67Z" fill="#B3CFCF"/>
<path d="M678.70,293.27 L680.19,290.51 L681.68,287.71 L683.16,284.85 L684.65,281.90 L686.14,278.81 L687.63,275.57 L689.11,272.15 L690.60,268.53 L692.09,264.73 L693.58,260.77 L695.07,256.66 L696.55,252.41 L698.04,248.01 L699.53,243.46 L701.02,238.74 L702.50,233.84 L703.99,228.75 L705.48,223.47 L706.97,218.01 L708.46,212.37 L709.94,206.56 L711.43,200.62 L712.92,194.58 L714.41,188.48 L715.89,182.39 L717.38,176.40 L718.87,170.60 L720.36,165.03 L721.85,159.71 L723.33,154.65 L724.82,149.87 L726.31,145.38 L727.80,141.19 L729.28,137.30 L730.77,133.70 L732.26,130.39 L733.75,127.37 L735.24,124.64 L736.72,122.19 L738.21,120.00 L739.70,118.08 L741.19,116.42 L742.67,115.00 L744.16,113.81 L745.65,112.83 L747.14,112.04 L748.63,111.44 L750.11,111.01 L751.60,110.73 L753.09,110.59 L754.58,110.58 L756.06,110.69 L757.55,110.90 L759.04,111.20 L760.53,111.57 L762.02,112.00 L763.50,112.46 L764.99,112.96 L766.48,113.47 L767.97,114.01 L769.45,114.55 L770.94,115.11 L772.43,115.67 L773.92,116.23 L775.41,116.78 L776.89,117.32 L778.38,117.84 L779.87,118.34 L781.36,118.82 L782.84,119.26 L784.33,119.66 L785.82,120.03 L787.31,120.34 L788.79,120.61 L790.28,120.82 L791.77,120.98 L793.26,121.08 L794.75,121.12 L796.23,121.10 L797.72,121.02 L799.21,120.88 L800.70,120.69 L802.18,120.44 L803.67,120.16 L805.16,119.83 L806.65,119.48 L808.14,119.10 L809.62,118.72 L811.11,118.35 L812.60,118.02 L814.09,117.74 L815.57,117.53 L817.06,117.41 L818.55,117.39 L820.04,117.49 L821.53,117.73 L823.01,118.11 L824.50,118.66 L825.99,119.38 L827.48,120.28 L828.96,121.39 L830.45,122.70 L831.94,124.22 L833.43,125.96 L834.92,127.92 L836.40,130.10 L837.89,132.52 L839.38,135.17 L840.87,138.06 L842.35,141.19 L843.84,144.58 L845.33,148.21 L846.82,152.09 L848.31,156.22 L849.79,160.59 L851.28,165.21 L852.77,170.05 L854.26,175.11 L855.74,180.36 L857.23,185.80 L858.72,191.41 L860.21,197.21 L861.70,203.24 L863.18,209.58 L864.67,216.25 L866.16,223.25 L867.65,230.58 L869.13,238.21 L870.62,246.13 L872.11,254.35 L873.60,262.85 L875.09,271.65 L876.57,280.76 L878.06,290.22 L879.55,300.06 L881.04,310.30 L882.52,320.98 L884.01,332.13 L885.50,343.57" fill="none" stroke="#262626" stroke-width="1.3"/>
<line x1="773.85" y1="65.64" x2="773.85" y2="544.55" stroke="#4a4a4a" stroke-width="1.35" stroke-dasharray="3.9,3.897"/>
<rect x="678.17" y="537.4" width="1.2" height="7.15" fill="#000" fill-opacity="1"/>
<rect x="698.84" y="537.4" width="1.2" height="7.15" fill="#000" fill-opacity="1"/>
<rect x="719.51" y="537.4" width="1.2" height="7.15" fill="#000" fill-opacity="1"/>
<rect x="740.18" y="537.4" width="1.2" height="7.15" fill="#000" fill-opacity="1"/>
<rect x="760.85" y="537.4" width="1.2" height="7.15" fill="#000" fill-opacity="1"/>
<rect x="781.52" y="537.4" width="1.2" height="7.15" fill="#000" fill-opacity="1"/>
<rect x="802.19" y="537.4" width="1.2" height="7.15" fill="#000" fill-opacity="1"/>
<rect x="822.86" y="537.4" width="1.2" height="7.15" fill="#000" fill-opacity="1"/>
<rect x="843.53" y="537.4" width="1.2" height="7.15" fill="#000" fill-opacity="1"/>
<rect x="864.20" y="537.4" width="1.2" height="7.15" fill="#000" fill-opacity="1"/>
<rect x="884.87" y="537.4" width="1.2" height="7.15" fill="#000" fill-opacity="1"/>
</g>
<text x="678.77" y="567.2" font-size="12.7" text-anchor="middle" fill="#000" stroke="#000" stroke-width="0.28">0</text>
<text x="720.11" y="567.2" font-size="12.7" text-anchor="middle" fill="#000" stroke="#000" stroke-width="0.28">1</text>
<text x="761.45" y="567.2" font-size="12.7" text-anchor="middle" fill="#000" stroke="#000" stroke-width="0.28">2</text>
<text x="802.79" y="567.2" font-size="12.7" text-anchor="middle" fill="#000" stroke="#000" stroke-width="0.28">3</text>
<text x="844.13" y="567.2" font-size="12.7" text-anchor="middle" fill="#000" stroke="#000" stroke-width="0.28">4</text>
<text x="885.47" y="567.2" font-size="12.7" text-anchor="middle" fill="#000" stroke="#000" stroke-width="0.28">5</text>
<text transform="translate(656.33,79.48) rotate(-90)" font-size="12.7" text-anchor="middle" fill="#000" stroke="#000" stroke-width="0.28">0.2</text>
<text transform="translate(656.33,191.30) rotate(-90)" font-size="12.7" text-anchor="middle" fill="#000" stroke="#000" stroke-width="0.28">0.0</text>
<text transform="translate(656.33,303.12) rotate(-90)" font-size="12.7" text-anchor="middle" fill="#000" stroke="#000" stroke-width="0.28">−0.2</text>
<text transform="translate(656.33,414.94) rotate(-90)" font-size="12.7" text-anchor="middle" fill="#000" stroke="#000" stroke-width="0.28">−0.4</text>
<text transform="translate(656.33,526.76) rotate(-90)" font-size="12.7" text-anchor="middle" fill="#000" stroke="#000" stroke-width="0.28">−0.6</text>
<text x="782.48" y="40.5" font-size="12.85" font-weight="bold" text-anchor="middle" fill="#000" stroke="#000" stroke-width="0.28">USA 2016</text>
<text x="782.48" y="591.6" font-size="15.5" text-anchor="middle" fill="#000" stroke="#000" stroke-width="0.28">Affective Polarization</text>
<text transform="translate(631.23,303.22) rotate(-90)" font-size="15.5" text-anchor="middle" fill="#000" stroke="#000" stroke-width="0.28">Democratic support</text>
</g>
</svg>
</body></html>
